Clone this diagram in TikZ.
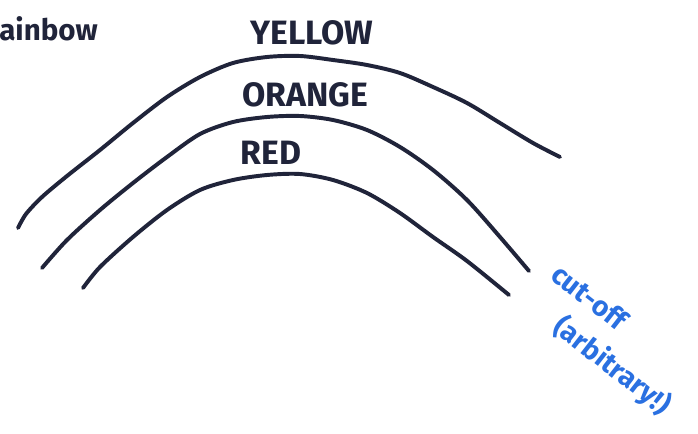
\documentclass[tikz,border=0pt]{standalone}
\usepackage{fontspec}
\setmainfont{Fira Sans}
\usepackage{tikz}
\usetikzlibrary{positioning}
\definecolor{InkNavy}{RGB}{32,36,58}
\definecolor{InkBlue}{RGB}{42,112,225}

\begin{document}
\begin{tikzpicture}[x=0.025cm, y=-0.025cm,
          band/.style={InkNavy, line width=2.8pt, line cap=round, line join=round},
          lbl/.style={font=\fontsize{24}{26}\selectfont\bfseries, text=InkNavy, inner sep=0pt},
          note/.style={font=\fontsize{20}{22}\selectfont\bfseries, text=InkBlue,
                       inner sep=0pt, rotate=-38}
        ]
        \useasboundingbox[fill=white] (0,0) rectangle (698,434);

        % Title (cut at the left edge)
        \node[font=\fontsize{21}{23}\selectfont\bfseries, text=InkNavy, anchor=west,
              inner sep=0pt] (title) at (-1,29) {ainbow};

        % Outer arc
        \draw[band] plot[smooth, tension=0.5] coordinates {(18,228) (26,214) (42,197)
              (67,176) (100,150) (133,123) (167,97) (200,77) (233,63) (267,57) (300,56)
              (333,60) (367,65) (400,73) (433,87) (467,103) (500,123) (533,143) (560,157)};
        \node[lbl] (yellow) at (312,33) {YELLOW};

        % Middle arc
        \draw[band] plot[smooth, tension=0.5] coordinates {(42,268) (67,240) (100,210)
              (133,183) (167,157) (200,134) (233,122) (267,117) (300,116) (333,120)
              (367,130) (400,147) (433,170) (467,200) (500,237) (529,271)};
        \node[lbl] (orange) at (305,95) {ORANGE};

        % Inner arc
        \draw[band] plot[smooth, tension=0.5] coordinates {(83,288) (100,267) (133,237)
              (167,210) (200,190) (233,180) (267,175) (300,174) (333,180) (367,193)
              (400,213) (433,237) (467,261) (509,295)};
        \node[lbl] (red) at (271,153) {RED};

        % Note on the end points
        \node[note] (cutoff) at (590,297) {cut-off};
        \node[note] (arbitrary) at (612,366) {(arbitrary!)};
      \end{tikzpicture}
\end{document}
